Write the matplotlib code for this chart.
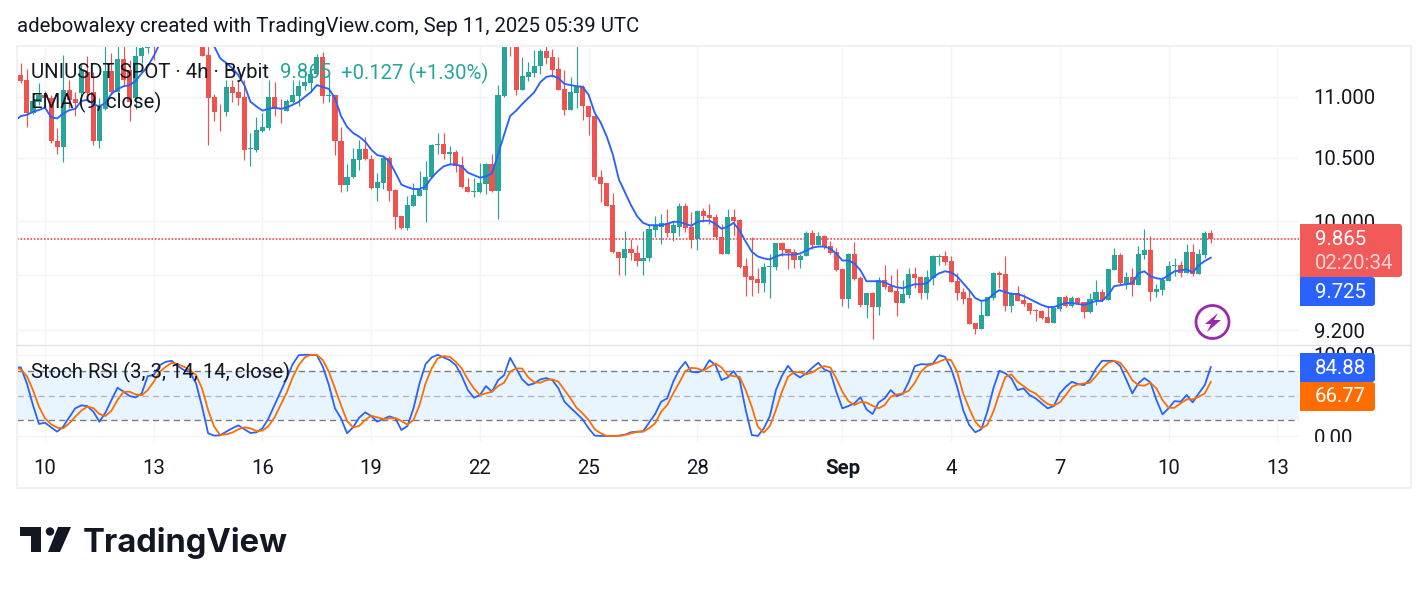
import numpy as np
import matplotlib
matplotlib.use("Agg")
import matplotlib.pyplot as plt
from matplotlib.patches import Rectangle, FancyBboxPatch, Circle, Polygon
from matplotlib.ticker import NullLocator

plt.rcParams["font.family"] = ["Roboto", "DejaVu Sans"]

nan = float("nan")

# 4h bars, first one is 4 bars before the Aug 10 00:00 tick
first_bar = -4
opens = [
    11.186, 11.143, 10.867, 10.958, 11.017, 10.989, 10.638, 10.584, 11.059, 10.983,
    11.031, 11.214, 11.042, 10.638, 10.900, 11.22, 11.045, 11.32, 11.228, 10.989,
    11.35, 11.42, 11.60, nan, nan, nan, nan, nan, nan, nan,
    11.50, 11.361, 10.997, 10.885, 10.87, 11.08, 11.042, 10.997, 10.57, 10.565,
    10.72, 10.744, 10.997, 10.903, 10.885, 10.961, 11.011, 11.09, 11.12, 11.195,
    11.345, 11.011, 11.017, 10.638, 10.282, 10.345, 10.479, 10.573, 10.49, 10.259,
    10.298, 10.498, 10.241, 10.04, 9.95, 10.12, 10.197, 10.244, 10.348, 10.603,
    10.613, 10.528, 10.549, 10.437, 10.27, 10.228, 10.223, 10.29, 10.445, 10.236,
    11.011, 11.70, 11.50, 11.059, 11.17, 11.205, 11.26, 11.392, 11.34, 11.234,
    11.065, 10.892, 11.036, 11.08, 10.925, 10.837, 10.348, 10.295, 10.125, 9.769,
    9.719, 9.793, 9.763, 9.70, 9.719, 9.935, 9.958, 9.988, 9.913, 9.96,
    10.115, 9.96, 9.863, 10.08, 10.05, 10.034, 9.883, 9.756, 10.034, 10.012,
    9.664, 9.587, 9.566, 9.536, 9.655, 9.653, 9.838, 9.793, 9.77, 9.704,
    9.734, 9.913, 9.823, 9.89, 9.815, 9.77, 9.638, 9.422, 9.756, 9.573,
    9.379, 9.465, 9.364, 9.558, 9.515, 9.479, 9.393, 9.45, 9.602, 9.58,
    9.465, 9.573, 9.732, 9.734, 9.697, 9.551, 9.472, 9.429, 9.251, 9.209,
    9.30, 9.429, 9.609, 9.602, 9.372, 9.465, 9.415, 9.393, 9.343, 9.336,
    9.294, 9.251, 9.35, 9.436, 9.372, 9.429, 9.40, 9.329, 9.415, 9.472,
    9.415, 9.634, 9.748, 9.529, 9.58, 9.522, 9.748, 9.785, 9.472, 9.486,
    9.551, 9.666, 9.668, 9.609, 9.77, 9.602, 9.748, 9.913,
]
highs = [
    11.29, 11.237, 10.975, 11.118, 11.05, 11.02, 10.741, 11.361, 11.143, 11.04,
    11.286, 11.352, 11.214, 10.989, 11.50, 11.38, 11.50, 11.46, 11.315, 11.45,
    11.46, 11.50, 11.65, nan, nan, nan, nan, nan, nan, nan,
    11.55, 11.50, 11.025, 10.942, 11.143, 11.143, 11.143, 11.143, 10.70, 10.83,
    10.864, 11.143, 11.123, 10.981, 10.981, 11.143, 11.143, 11.214, 11.228, 11.37,
    11.385, 11.214, 11.017, 10.75, 10.445, 10.579, 10.646, 10.668, 10.525, 10.38,
    10.511, 10.511, 10.254, 10.04, 10.197, 10.30, 10.393, 10.472, 10.613, 10.70,
    10.70, 10.592, 10.565, 10.511, 10.34, 10.34, 10.459, 10.459, 10.532, 11.10,
    11.55, 11.75, 11.55, 11.34, 11.30, 11.40, 11.407, 11.44, 11.415, 11.345,
    11.228, 11.17, 11.44, 11.10, 10.925, 10.85, 10.40, 10.30, 10.218, 9.769,
    9.923, 9.863, 9.82, 9.923, 9.968, 10.04, 10.056, 10.095, 10.0, 10.141,
    10.141, 10.074, 10.09, 10.103, 10.133, 10.056, 9.98, 10.095, 10.095, 10.019,
    9.719, 9.88, 9.646, 9.682, 9.756, 9.838, 9.845, 9.793, 9.793, 9.756,
    9.928, 9.935, 9.918, 9.898, 9.853, 9.80, 9.646, 9.763, 9.845, 9.587,
    9.465, 9.472, 9.58, 9.668, 9.595, 9.638, 9.558, 9.646, 9.653, 9.587,
    9.631, 9.748, 9.756, 9.778, 9.741, 9.609, 9.50, 9.488, 9.251, 9.408,
    9.436, 9.616, 9.624, 9.741, 9.472, 9.515, 9.458, 9.393, 9.35, 9.343,
    9.364, 9.357, 9.436, 9.45, 9.443, 9.436, 9.40, 9.465, 9.558, 9.493,
    9.638, 9.80, 9.763, 9.616, 9.646, 9.815, 9.943, 9.89, 9.529, 9.58,
    9.697, 9.719, 9.697, 9.83, 9.83, 9.793, 9.928, 9.935,
]
lows = [
    11.12, 10.752, 10.859, 10.934, 10.97, 10.62, 10.532, 10.463, 10.909, 10.837,
    10.961, 11.003, 10.605, 10.581, 10.892, 11.03, 11.03, 11.10, 10.80, 10.898,
    11.29, 11.38, 11.315, nan, nan, nan, nan, nan, nan, nan,
    11.352, 10.60, 10.795, 10.716, 10.837, 10.961, 10.934, 10.479, 10.43, 10.543,
    10.705, 10.727, 10.837, 10.786, 10.878, 10.947, 10.92, 11.059, 11.045, 11.186,
    10.952, 10.961, 10.517, 10.223, 10.236, 10.34, 10.40, 10.479, 10.254, 10.158,
    10.254, 10.158, 9.938, 9.938, 9.93, 10.12, 10.197, 9.998, 10.34, 10.532,
    10.485, 10.445, 10.385, 10.262, 10.223, 10.185, 10.218, 10.21, 10.23, 10.019,
    11.0, 11.352, 11.017, 11.059, 11.137, 11.17, 11.198, 11.277, 11.17, 11.059,
    10.85, 10.892, 10.906, 10.809, 10.686, 10.319, 10.15, 10.115, 9.763, 9.60,
    9.597, 9.706, 9.665, 9.60, 9.70, 9.88, 9.83, 9.88, 9.848, 9.888,
    9.918, 9.80, 9.785, 9.994, 9.98, 9.863, 9.75, 9.75, 9.898, 9.646,
    9.443, 9.443, 9.465, 9.472, 9.429, 9.631, 9.734, 9.638, 9.646, 9.646,
    9.734, 9.793, 9.818, 9.788, 9.75, 9.624, 9.372, 9.357, 9.558, 9.364,
    9.287, 9.14, 9.308, 9.493, 9.472, 9.30, 9.393, 9.429, 9.50, 9.422,
    9.422, 9.522, 9.668, 9.668, 9.544, 9.415, 9.386, 9.244, 9.174, 9.209,
    9.30, 9.415, 9.50, 9.336, 9.329, 9.408, 9.372, 9.315, 9.265, 9.28,
    9.251, 9.251, 9.336, 9.367, 9.364, 9.386, 9.287, 9.322, 9.379, 9.408,
    9.415, 9.63, 9.529, 9.493, 9.443, 9.522, 9.712, 9.408, 9.436, 9.45,
    9.551, 9.587, 9.58, 9.609, 9.587, 9.602, 9.726, 9.838,
]
closes = [
    11.137, 10.867, 10.967, 11.017, 10.992, 10.632, 10.584, 11.059, 10.975, 10.947,
    11.228, 11.031, 10.638, 10.92, 11.22, 11.045, 11.32, 11.143, 10.96, 11.35,
    11.42, 11.46, 11.48, nan, nan, nan, nan, nan, nan, nan,
    11.352, 10.994, 10.876, 10.878, 11.08, 11.036, 10.994, 10.565, 10.575, 10.727,
    10.75, 10.997, 10.898, 10.898, 10.964, 11.017, 11.093, 11.127, 11.195, 11.345,
    11.011, 11.017, 10.632, 10.282, 10.348, 10.485, 10.573, 10.485, 10.259, 10.303,
    10.498, 10.236, 10.036, 9.95, 10.125, 10.205, 10.244, 10.348, 10.605, 10.613,
    10.53, 10.547, 10.432, 10.267, 10.228, 10.231, 10.295, 10.445, 10.236, 11.017,
    11.50, 11.52, 11.059, 11.176, 11.214, 11.263, 11.392, 11.333, 11.228, 11.059,
    10.892, 11.042, 11.08, 10.92, 10.828, 10.345, 10.288, 10.12, 9.769, 9.719,
    9.793, 9.758, 9.70, 9.726, 9.943, 9.968, 9.988, 9.913, 9.968, 10.115,
    9.95, 9.86, 10.08, 10.04, 10.027, 9.883, 9.756, 10.034, 10.004, 9.658,
    9.58, 9.558, 9.536, 9.653, 9.66, 9.838, 9.786, 9.763, 9.704, 9.738,
    9.913, 9.823, 9.89, 9.808, 9.763, 9.631, 9.422, 9.756, 9.566, 9.379,
    9.465, 9.364, 9.558, 9.507, 9.472, 9.393, 9.458, 9.602, 9.573, 9.465,
    9.58, 9.734, 9.734, 9.69, 9.544, 9.465, 9.422, 9.244, 9.209, 9.308,
    9.436, 9.609, 9.595, 9.372, 9.465, 9.408, 9.386, 9.336, 9.338, 9.287,
    9.251, 9.357, 9.436, 9.372, 9.429, 9.393, 9.329, 9.422, 9.472, 9.415,
    9.638, 9.748, 9.536, 9.58, 9.522, 9.756, 9.785, 9.472, 9.493, 9.558,
    9.66, 9.668, 9.609, 9.77, 9.602, 9.756, 9.913, 9.865,
]

# indicator lines start one bar earlier than the candles
first_line_bar = -5
ema9 = [
    10.80, 10.84, 10.85, 10.875, 10.89, 10.91, 10.83, 10.82, 10.86, 10.888,
    10.90, 10.965, 10.975, 10.94, 10.92, 10.95, 11.025, 11.065, 11.09, 11.10,
    11.135, 11.20, 11.26, 11.35, 11.46, nan, nan, nan, nan, nan, nan, nan,
    11.50, 11.436, 11.33, 11.29, 11.245, 11.185, 11.10, 10.96, 10.92, 10.885,
    10.90, 10.91, 10.90, 10.91, 10.934, 10.958, 11.0, 11.04, 11.10, 11.084,
    11.067, 10.99, 10.84, 10.75, 10.70, 10.67, 10.63, 10.565, 10.52, 10.51,
    10.47, 10.38, 10.285, 10.265, 10.25, 10.25, 10.27, 10.34, 10.39, 10.43,
    10.445, 10.445, 10.43, 10.38, 10.36, 10.34, 10.35, 10.375, 10.525, 10.685,
    10.84, 10.885, 10.94, 10.99, 11.04, 11.125, 11.17, 11.18, 11.16, 11.11,
    11.10, 11.09, 11.085, 11.017, 10.867, 10.785, 10.67, 10.525, 10.327, 10.225,
    10.125, 10.04, 9.988, 9.97, 9.97, 9.97, 9.98, 9.996, 9.996, 9.98,
    9.965, 9.996, 10.004, 10.004, 9.98, 9.943, 9.958, 9.988, 9.928, 9.845,
    9.77, 9.734, 9.719, 9.712, 9.734, 9.748, 9.748, 9.748, 9.756, 9.778,
    9.80, 9.808, 9.808, 9.793, 9.756, 9.704, 9.704, 9.682, 9.631, 9.551,
    9.551, 9.551, 9.544, 9.522, 9.507, 9.50, 9.515, 9.529, 9.529, 9.536,
    9.58, 9.609, 9.624, 9.616, 9.587, 9.536, 9.486, 9.429, 9.408, 9.415,
    9.458, 9.486, 9.472, 9.458, 9.458, 9.443, 9.422, 9.40, 9.379, 9.364,
    9.364, 9.379, 9.393, 9.393, 9.386, 9.379, 9.393, 9.408, 9.408, 9.45,
    9.515, 9.522, 9.529, 9.536, 9.609, 9.624, 9.587, 9.573, 9.566, 9.595,
    9.624, 9.631, 9.638, 9.616, 9.668, 9.70, 9.725,
]
stoch_k = [
    85, 84.4, 64.9, 38.3, 15.1, 16.7, 11, 5.7, 11.8, 23.2,
    34.3, 37.9, 37.1, 30.2, 17.9, 29, 44.5, 59.6, 54.7, 49.4,
    47.7, 52.6, 73.8, 75, 87.3, 91.4, 92.6, 86, 81.2, 79.1,
    64.9, 36.3, 3.7, 0.8, 1.2, 5.7, 9.8, 13.4, 8.6, 4.1,
    4.9, 9.8, 22, 38.3, 54.7, 71, 88.5, 99.5, 100, 100,
    99.5, 85.3, 62.8, 34.3, 22, 3.7, 11, 22.8, 29.4, 24.9,
    17.9, 21.2, 24.5, 22, 7.7, 12.6, 34.3, 64.9, 88.5, 96.7,
    100, 96.7, 93.4, 87.3, 73.8, 56.7, 47.3, 50.6, 61.6, 54.7,
    68.9, 75, 96.3, 83.2, 69.8, 62.8, 64.9, 69.8, 71.4, 68.9,
    58.7, 42.4, 35, 28.1, 20.8, 9.8, 0.8, 0.4, 0.4, 0.4,
    0.8, 2, 4.9, 5.7, 6.1, 16.7, 27.3, 42.4, 46.5, 66.9,
    82, 91.4, 79.1, 78.3, 81.2, 93.4, 87.3, 68.9, 72.2, 80,
    68.9, 32.2, 1.6, 0.4, 9.8, 24.9, 56.7, 74.2, 86.5, 77.1,
    72.2, 77.1, 84, 90.2, 82, 79.1, 54.7, 34.3, 37.1, 40.4,
    48, 33, 27.3, 41.6, 46.5, 56.7, 49.4, 51.8, 66.9, 86.1,
    88.5, 88.1, 89.3, 99.5, 97.5, 83.2, 60.8, 32.2, 13.9, 4.9,
    8.6, 30.2, 58.7, 80.4, 77.1, 71, 56.7, 58.7, 50.6, 46.5,
    40.4, 34.3, 37.1, 52.6, 60.8, 66.9, 64, 62.8, 69.8, 83.2,
    92.6, 92.6, 92.6, 86.1, 69.8, 52.6, 64.9, 71.4, 66.1, 44.5,
    26.9, 34.3, 43.2, 42.4, 50.6, 41.6, 52.6, 62.8, 84.88,
]
stoch_d = [
    84.4, 82, 73.8, 56.7, 36.3, 22, 14.7, 10.6, 9.8, 15.9,
    24, 31.4, 36.3, 34.7, 27.3, 24.9, 31.4, 44.5, 54.7, 54.7,
    51.4, 50.2, 56.7, 66.9, 79.1, 85.3, 90.2, 88.5, 85.3, 81.2,
    75, 58.7, 32.2, 11.8, 1.6, 2.4, 4.5, 8.6, 11, 9.8,
    6.5, 6.9, 12.6, 23.2, 38.3, 53.4, 72.2, 87.3, 96.7, 100,
    100, 93.4, 79.1, 58.7, 38.3, 18.8, 11, 12.6, 20, 25.3,
    23.2, 21.2, 22, 22.4, 18.8, 14.3, 20, 38.3, 64.9, 83.2,
    95.5, 98.3, 97.5, 91.4, 83.2, 69.8, 58.7, 50.6, 52.6, 54.7,
    61.6, 65.7, 79.1, 83.2, 83.2, 72.2, 66.1, 65.7, 68.9, 69.8,
    66.9, 56.7, 46.5, 35, 28.1, 20, 8.6, 3.7, 0.4, 0.4,
    0.4, 1.6, 3.7, 5.3, 5.7, 9.8, 15.9, 30.2, 38.3, 52.6,
    65.7, 80, 84, 83.2, 80.4, 85.3, 89.3, 84.4, 75, 73.8,
    73, 56.7, 36.3, 11.8, 4.5, 12.6, 32.2, 54.7, 73, 78.7,
    78.7, 75.9, 78.3, 83.2, 86.1, 84.4, 71, 54.7, 43.2, 38.3,
    42, 41.4, 37.5, 34.3, 38.3, 48.5, 51.4, 52.6, 55.9, 65.7,
    79.1, 86.1, 88.5, 91.4, 94.6, 93.4, 79.1, 52.6, 34.3, 17.9,
    9.8, 13.9, 30.2, 52.6, 73, 75.9, 66.9, 61.6, 55.9, 52.6,
    45.3, 39.6, 37.5, 41.6, 50.6, 60.8, 63.6, 64.9, 65.7, 73.8,
    83.2, 90.2, 92.6, 90.2, 81.2, 68.9, 62.8, 62, 65.7, 58.7,
    44.5, 35, 35, 40.4, 45.3, 45.3, 48.5, 52.6, 66.77,
]

price_ticks = [9.2, 9.6, 10.0, 10.5, 11.0]
price_tick_labels = ["9.200", "9.600", "10.000", "10.500", "11.000"]
date_ticks = [0, 18, 36, 54, 72, 90, 108, 132, 150, 168, 186, 204]
date_labels = ["10", "13", "16", "19", "22", "25", "28", "Sep", "4", "7", "10", "13"]
last_price = 9.865
ema_last = 9.725

UP = "#26A69A"
DOWN = "#EF5350"
BLUE = "#2962FF"
ORANGE = "#FF6D00"
TEXT = "#131722"
GRID = "#F3F4F7"
W, H = 1428, 591
FS = 14.63


def pane(left, top, right, bottom):
    a = fig.add_axes([left / W, 1 - bottom / H, (right - left) / W, (bottom - top) / H])
    for s in a.spines.values():
        s.set_visible(False)
    a.set_xlim(-4.64, 207.6)
    a.set_xticks(date_ticks)
    a.grid(True, color=GRID, lw=1)
    a.set_axisbelow(True)
    a.yaxis.tick_right()
    a.tick_params(length=0, labelsize=FS, labelcolor=TEXT)
    return a


fig = plt.figure(figsize=(W / 100, H / 100), dpi=100, facecolor="white")

# price pane, log scale
ax = pane(17, 46, 1299, 344)
ax.set_yscale("log")
ax.set_ylim(9.1025, 11.4375)
ax.yaxis.set_minor_locator(NullLocator())
ax.yaxis.set_minor_formatter(plt.NullFormatter())
ax.set_yticks(price_ticks)
ax.set_yticklabels(price_tick_labels)
ax.tick_params(axis="y", pad=10.5)
ax.tick_params(axis="x", labelbottom=False)

bars = np.arange(len(opens)) + first_bar
o, h, l, c = map(np.array, (opens, highs, lows, closes))
colors = [UP if cl >= op else DOWN for op, cl in zip(o, c)]
ax.vlines(bars, l, h, colors=colors, lw=0.85, zorder=2)
ax.bar(bars, np.maximum(np.abs(c - o), 0.006), bottom=np.minimum(o, c), width=0.85, color=colors, lw=0, zorder=3)
# round caps make the dots wider than the gaps, so keep them butt and explicit
ax.axhline(last_price, color="#F23645", lw=1.1, ls=(0, (1.1, 1.1)), dash_capstyle="butt", zorder=2)
line_bars = np.arange(len(ema9)) + first_line_bar
ax.plot(line_bars, ema9, color=BLUE, lw=1.35, zorder=4)

# Stoch RSI pane
ax2 = pane(17, 345, 1299, 442)
ax2.set_ylim(-7, 112)
ax2.set_yticks([0, 100])
ax2.set_yticklabels(["0.00", "100.00"])
ax2.tick_params(axis="y", pad=10.5)
ax2.tick_params(axis="x", pad=12)
ax2.set_xticklabels(date_labels)
for t in ax2.get_xticklabels():
    if t.get_text() == "Sep":
        t.set_fontweight("bold")
ax2.axhspan(20, 80, color="#E9F5FE", lw=0, zorder=1)
ax2.axhline(80, color="#787B86", lw=1, ls=(0, (4.5, 3)), zorder=2)
ax2.axhline(50, color="#B2B5BE", lw=1, ls=(0, (4.5, 3)), zorder=2)
ax2.axhline(20, color="#787B86", lw=1, ls=(0, (4.5, 3)), zorder=2)
ax2.plot(np.arange(len(stoch_k)) + first_line_bar, stoch_k, color=BLUE, lw=1.3, zorder=3)
ax2.plot(np.arange(len(stoch_d)) + first_line_bar, stoch_d, color=ORANGE, lw=1.3, zorder=4)

# everything above the panes uses pixel coordinates
top = fig.add_axes([0, 0, 1, 1], zorder=10)
top.set_xlim(0, W)
top.set_ylim(H, 0)
top.axis("off")
top.patch.set_alpha(0)

top.add_patch(Rectangle((17, 46), 1394, 442, fill=False, ec="#F0F1F4", lw=1.5))
top.plot([17, 1411], [344.5, 344.5], color="#E0E3EB", lw=1)
top.add_patch(Rectangle((1300, 442), 108, 10, fc="white", ec="none"))


def axis_label(y0, y1, x1, color):
    top.add_patch(Rectangle((1300, y0), 10, y1 - y0, fc=color, ec="none"))
    top.add_patch(FancyBboxPatch((1302, y0), x1 - 1302, y1 - y0, boxstyle="round,pad=0,rounding_size=3", fc=color, ec="none"))


axis_label(224, 277, 1402, "#F15A58")
axis_label(277, 306, 1375, BLUE)
axis_label(353, 382, 1375, BLUE)
axis_label(382, 411, 1375, ORANGE)
top.text(1315, 239.5, f"{last_price:.3f}", color="white", fontsize=FS, va="center")
top.text(1315, 263.5, "02:20:34", color="#FFD6D5", fontsize=FS, va="center")
top.text(1315, 292.5, f"{ema_last:.3f}", color="white", fontsize=FS, va="center")
top.text(1315, 368, f"{stoch_k[-1]:.2f}", color="white", fontsize=FS, va="center")
top.text(1315, 397, f"{stoch_d[-1]:.2f}", color="white", fontsize=FS, va="center")

top.text(17, 27, "adebowalexy created with TradingView.com, Sep 11, 2025 05:39 UTC", color=TEXT, fontsize=FS, va="center")
top.text(31, 73, "UNIUSDT SPOT · 4h · Bybit", color=TEXT, fontsize=FS, va="center")
top.text(280, 73, "9.865", color=UP, fontsize=FS, va="center")
top.text(341, 73, "+0.127 (+1.30%)", color=UP, fontsize=FS, va="center")
top.text(31, 102, "EMA (9, close)", color=TEXT, fontsize=FS, va="center")
top.text(31, 372, "Stoch RSI (3, 3, 14, 14, close)", color=TEXT, fontsize=FS, va="center")

# lightning badge
top.add_patch(Circle((1212.5, 322), 16.5, fill=False, ec="#9C27B0", lw=2))
top.add_patch(Polygon([(1218, 313), (1205, 324), (1211, 324), (1207, 332), (1221, 320), (1214, 320)], fc="#9C27B0", ec="none"))

# TradingView logo
logo = "#131722"
top.add_patch(Polygon([(20, 527), (41, 527), (41, 552), (31, 552), (31, 536), (20, 536)], fc=logo, ec="none"))
top.add_patch(Circle((50, 531.5), 4.2, fc=logo, ec="none"))
top.add_patch(Polygon([(58, 527), (71, 527), (60, 552), (48, 552)], fc=logo, ec="none"))
top.text(83, 552, "TradingView", color=logo, fontsize=23.6, family=["Inter", "DejaVu Sans"], fontweight="bold", va="baseline")

fig.savefig("out.png", dpi=100, facecolor="white")
